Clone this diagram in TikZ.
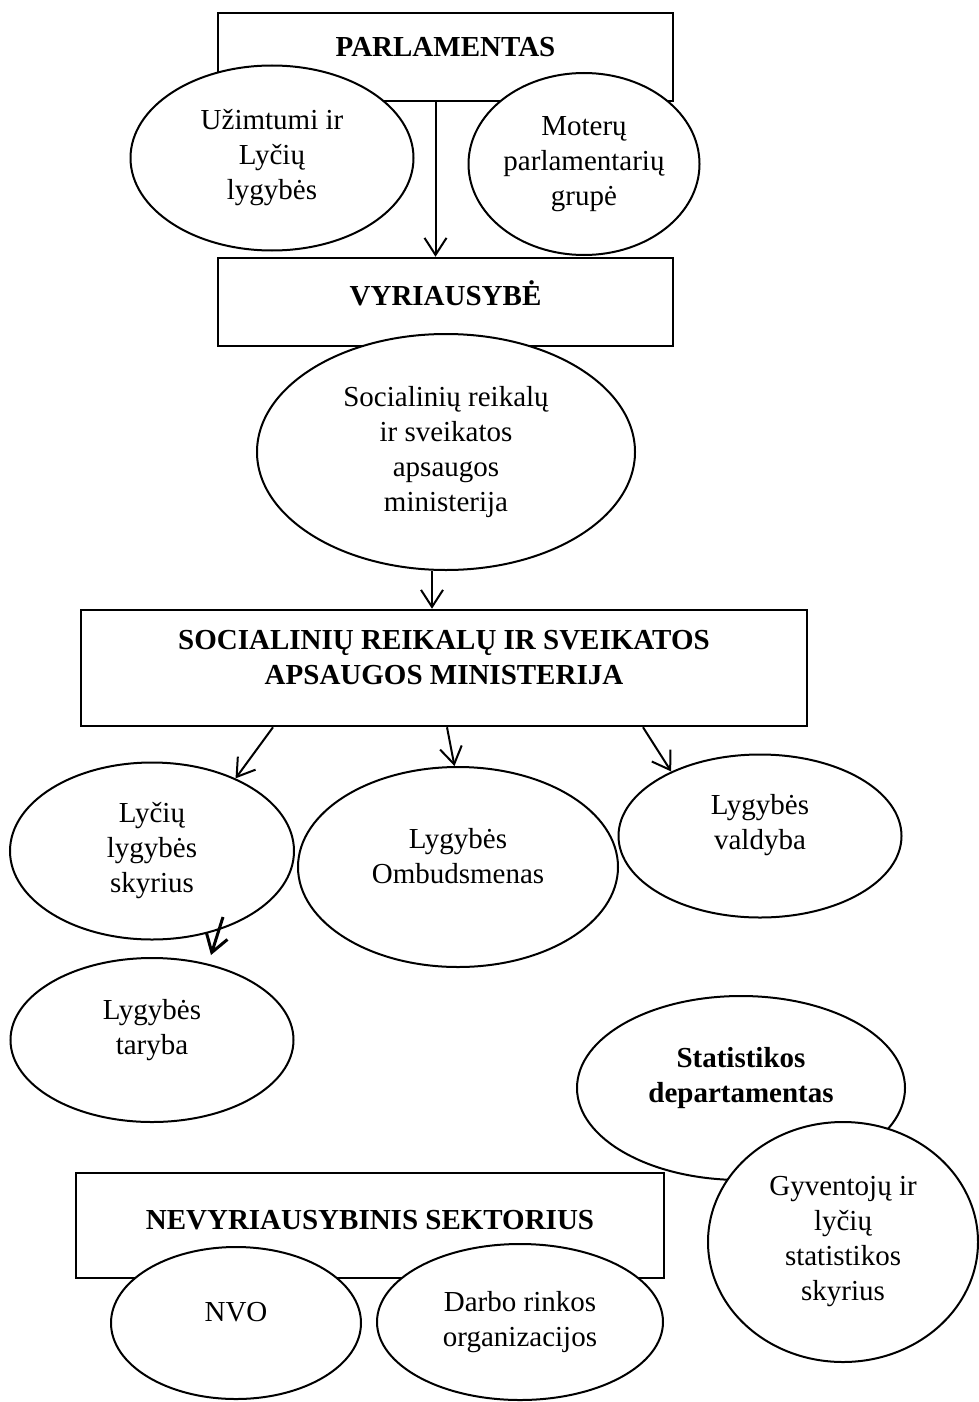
\documentclass[tikz,border=0pt]{standalone}
\usepackage{fontspec}
\setmainfont{Liberation Serif}
\usetikzlibrary{arrows.meta,shapes.geometric,calc}

\begin{document}
\begin{tikzpicture}[x=1pt,y=-1pt,font=\fontsize{29}{35}\selectfont,
  orgbox/.style={draw,line width=2.5pt,fill=white,inner sep=0pt},
  oval/.style={ellipse,draw,line width=2pt,fill=white,inner sep=0pt,align=center},
  txt/.style={align=center},
  head/.style={align=center,font=\fontsize{29}{35}\selectfont\bfseries},
  link/.style={line width=2pt,-{Straight Barb[length=17pt,width=22pt]}}]
\fill[white] (0,0) rectangle (978,1402);
\useasboundingbox (0,0) rectangle (978,1402);
% boxes
\node[orgbox,minimum width=455pt,minimum height=88pt,label={[head,yshift=10pt]center:PARLAMENTAS}] (parl) at (445.5,57) {};
\node[orgbox,minimum width=455pt,minimum height=88pt,label={[head,yshift=9pt]center:VYRIAUSYBĖ}] (vyr) at (445.5,302) {};
\node[orgbox,minimum width=726pt,minimum height=116pt,label={[head,yshift=10pt]center:SOCIALINIŲ REIKALŲ IR SVEIKATOS\\APSAUGOS MINISTERIJA}] (srsam) at (444,668) {};
\node[orgbox,minimum width=588pt,minimum height=105pt,label={[head,yshift=5pt]center:NEVYRIAUSYBINIS SEKTORIUS}] (nvs) at (370,1225.5) {};
% ellipses
\node[oval,minimum width=283pt,minimum height=185pt] (uzimt) at (272,158) {Užimtumi ir\\Lyčių\\lygybės};
\node[oval,minimum width=231pt,minimum height=182pt] (moter) at (584,164) {Moterų\\parlamentarių\\grupė};
\node[oval,minimum width=378pt,minimum height=236pt] (sociel) at (446,452) {Socialinių reikalų\\ir sveikatos\\apsaugos\\ministerija};
\node[oval,minimum width=284pt,minimum height=177pt] (skyr) at (152,851) {Lyčių\\lygybės\\skyrius};
\node[oval,minimum width=320pt,minimum height=200pt,label={[txt,yshift=11pt]center:Lygybės\\Ombudsmenas}] (ombud) at (458,867) {};
\node[oval,minimum width=283pt,minimum height=163pt,label={[txt,yshift=11pt]center:Lygybės\\valdyba}] (vald) at (760,836) {};
\node[oval,minimum width=283pt,minimum height=164pt,label={[txt,yshift=10pt]center:Lygybės\\taryba}] (taryba) at (152,1040) {};
\node[oval,minimum width=328pt,minimum height=184pt,label={[head,yshift=10pt]center:Statistikos\\departamentas}] (statd) at (741,1088) {};
\node[oval,minimum width=270pt,minimum height=240pt] (gyv) at (843,1242) {Gyventojų ir\\lyčių\\statistikos\\skyrius};
\node[oval,minimum width=250pt,minimum height=152pt,label={[txt,yshift=11pt]center:NVO}] (nvo) at (236,1323) {};
\node[oval,minimum width=286pt,minimum height=156pt] (darbo) at (520,1322) {Darbo rinkos\\organizacijos};
% arrows
\draw[link] ([xshift=-10pt]parl.south) -- ([xshift=-10pt]vyr.north);
\draw[link] ([xshift=-14pt]sociel.south) -- ([xshift=-12pt]srsam.north);
\draw[link] ([xshift=-171pt]srsam.south) -- (skyr.41);
\draw[link] ([xshift=3pt]srsam.south) -- (ombud.92);
\draw[link] ([xshift=199pt]srsam.south) -- (vald.144);
\draw[link,line width=3pt] ($(skyr.center)+(71,66)$) -- ($(taryba.center)+(59,-85)$);
\end{tikzpicture}
\end{document}
